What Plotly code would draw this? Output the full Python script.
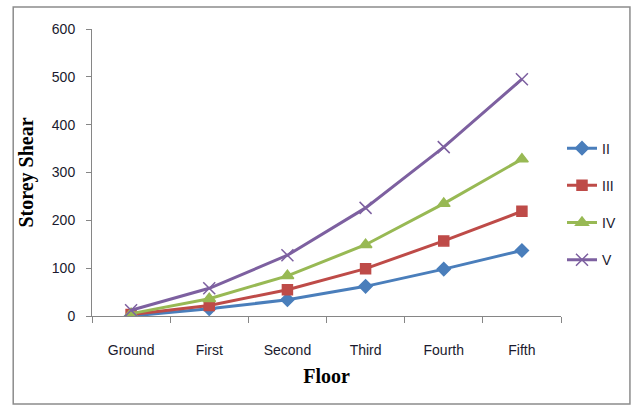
import plotly.graph_objects as go

floors = ["Ground", "First", "Second", "Third", "Fourth", "Fifth"]
shear_ii = [0, 15, 34, 62, 98, 137]
shear_iii = [3, 22, 55, 99, 157, 219]
shear_iv = [5, 36, 84, 149, 235, 328]
shear_v = [12, 58, 127, 226, 353, 495]

series = [
    ("II", shear_ii, "#4A7EBB", "diamond", 10),
    ("III", shear_iii, "#BE4B48", "square", 10),
    ("IV", shear_iv, "#98B954", "triangle-up", 11),
    ("V", shear_v, "#7D60A0", "x-thin-open", 12),
]

fig = go.Figure()
for name, vals, color, symbol, size in series:
    fig.add_trace(go.Scatter(
        x=floors, y=vals, name=name, mode="lines+markers",
        legendgroup=name,
        line=dict(color=color, width=3),
        marker=dict(symbol=symbol, size=size, color=color,
                    line=dict(color=color, width=1.5)),
    ))

tick_font = dict(family="Liberation Sans", size=14, color="#1a1a2e")

fig.update_layout(
    width=632, height=406,
    margin=dict(l=92, r=70, t=29, b=90),
    paper_bgcolor="white", plot_bgcolor="white",
    showlegend=True,
    legend=dict(x=1.0, xanchor="left", y=0.39, yanchor="middle",
                font=dict(family="Liberation Sans", size=14, color="#1a1a2e"),
                tracegroupgap=16, bgcolor="rgba(0,0,0,0)"),
    xaxis=dict(
        type="category", range=[-0.5, 5.5],
        showline=True, linecolor="#868686", linewidth=1,
        ticks="outside", ticklen=6, tickcolor="#868686",
        tickson="boundaries", showgrid=False,
        tickfont=tick_font, ticklabelstandoff=21,
        title=dict(text="<b>Floor</b>", standoff=12,
                   font=dict(family="Liberation Serif", size=20, color="black")),
    ),
    yaxis=dict(
        range=[0, 600], dtick=100,
        showline=True, linecolor="#868686", linewidth=1,
        ticks="outside", ticklen=5, tickcolor="#868686",
        showgrid=False, zeroline=False,
        tickfont=tick_font, ticklabelstandoff=8,
        title=dict(text="<b>Storey Shear</b>", standoff=12,
                   font=dict(family="Liberation Serif", size=20, color="black")),
    ),
    shapes=[dict(type="rect", xref="paper", yref="paper",
                 x0=-0.168, x1=1.147, y0=-0.3066, y1=1.0767,
                 line=dict(color="#8c8c8c", width=1.5))],
)

fig.write_html("out.html")
